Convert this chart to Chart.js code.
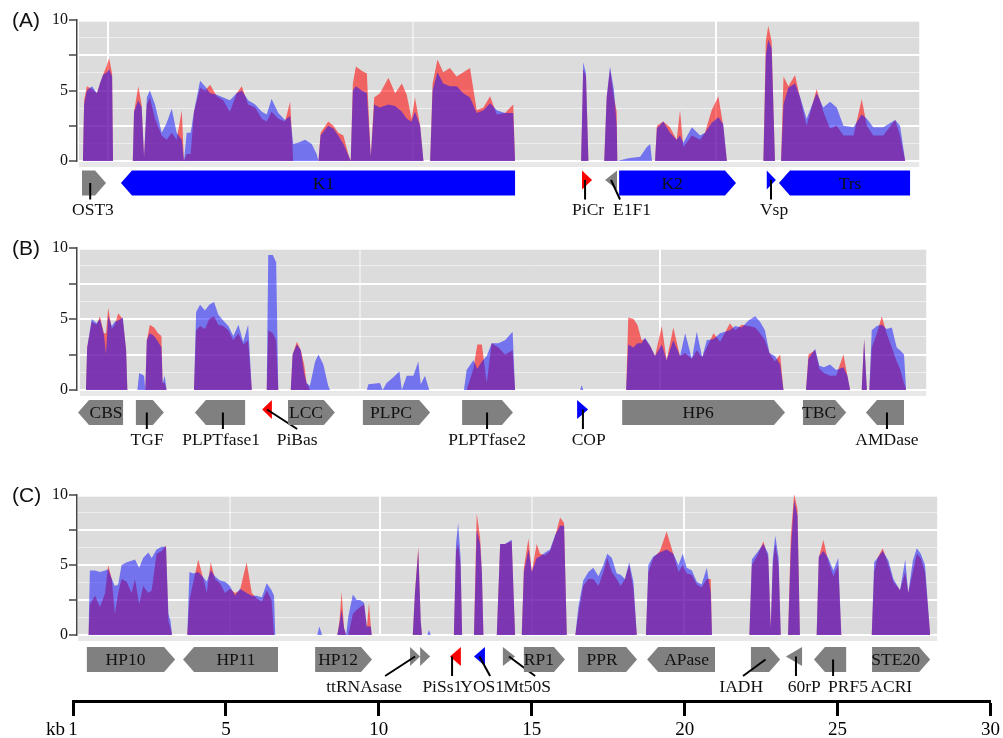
<!DOCTYPE html>
<html>
<head>
<meta charset="utf-8">
<script src="https://cdn.jsdelivr.net/npm/chart.js@4.4.1/dist/chart.umd.min.js"></script>
<style>
  html, body { margin: 0; padding: 0; background: #fff; }
  #wrap { position: relative; width: 1003px; height: 738px; overflow: hidden; }
  canvas { position: absolute; left: 0; }
</style>
</head>
<body>
<div id="wrap">
  <canvas id="panelA" width="1003" height="230" style="top:0px"></canvas>
  <canvas id="panelB" width="1003" height="230" style="top:230px"></canvas>
  <canvas id="panelC" width="1003" height="230" style="top:470px"></canvas>
  <canvas id="kbAxis" width="1003" height="50" style="top:688px"></canvas>
</div>
<script>
// ---------- panel A: read coverage along the locus (kb), two libraries ----------
const aKb = [
  0.26, 0.30, 0.39, 0.56, 0.72, 0.82, 0.92, 1.05, 1.12, 1.22, 1.25,
  1.90, 1.94, 2.08, 2.19, 2.27, 2.36, 2.46, 2.63, 2.85, 3.01,
  3.18, 3.34, 3.51, 3.58, 3.67, 3.80, 3.91, 4.11, 4.27, 4.44,
  4.66, 4.87, 5.09, 5.31, 5.48, 5.69, 5.92, 6.14, 6.30, 6.46,
  6.68, 6.90, 7.07, 7.17, 7.33, 7.56, 7.78, 7.94, 8.00, 8.07,
  8.32, 8.49, 8.65, 8.82, 8.98, 9.06, 9.13, 9.23, 9.42, 9.59,
  9.72, 9.83, 10.02, 10.30, 10.52, 10.74, 10.90, 11.06, 11.17, 11.34,
  11.45, 11.67, 11.75, 11.91, 12.10, 12.32, 12.54, 12.76, 12.98, 13.20,
  13.42, 13.64, 13.86, 14.13, 14.40, 14.46,
  16.63, 16.70, 16.79, 16.87, 17.39, 17.47, 17.58, 17.71, 17.80, 17.82, 18.18,
  18.57, 18.79, 18.90, 18.96, 19.06, 19.12, 19.33, 19.55, 19.77, 19.88,
  19.99, 20.27, 20.54, 20.70, 20.92, 21.14, 21.30, 21.42, 22.62, 22.70,
  22.78, 22.89, 23.00, 23.20, 23.28, 23.44, 23.66, 23.82, 24.04, 24.37,
  24.59, 24.81, 25.03, 25.25, 25.58, 25.85, 26.02, 26.23, 26.56, 26.95,
  27.11, 27.28
];
const aRed = [
  0, 4.3, 5.3, 5.1, 4.8, 5.5, 6.1, 6.8, 7.3, 6.2, 0,
  0, 3.5, 5.3, 4.0, 0.3, 4.0, 4.5, 3.0, 1.8, 1.5,
  2.0, 1.5, 3.6, 0, 0.5, 0.5, 3.5, 5.2, 5.0, 5.4,
  4.6, 4.3, 3.5, 4.8, 5.3, 4.0, 3.8, 3.0, 2.8, 3.5,
  3.0, 2.8, 4.2, 0, 0, 0, 0, 0, 0, 2.0,
  2.8, 2.5, 2.0, 1.8, 0.5, 0, 5.5, 6.7, 6.4, 6.2,
  0.3, 4.5, 4.8, 5.9, 4.8, 5.5, 4.7, 3.0, 4.5, 2.5,
  0, 0, 5.5, 7.2, 6.3, 6.6, 6.0, 6.3, 6.6, 3.6,
  3.8, 4.6, 3.3, 3.4, 4.0, 0,
  0, 6.5, 6.0, 0, 0, 4.5, 6.5, 4.5, 3.5, 0, 0,
  0, 0, 0, 0, 0, 2.5, 2.8, 2.4, 1.5, 3.6,
  1.0, 1.8, 1.5, 2.0, 3.6, 4.6, 2.5, 0, 0, 8.5,
  9.6, 8.5, 0, 0, 6.0, 5.3, 6.1, 4.5, 2.5, 5.1,
  3.5, 2.3, 2.5, 1.8, 1.8, 4.4, 2.5, 1.8, 1.8, 2.9,
  1.8, 0
];
const aBlue = [
  0, 4.0, 5.0, 5.3, 4.8, 5.5, 6.1, 6.3, 6.5, 6.0, 0,
  0, 3.5, 4.3, 3.8, 0.3, 4.5, 5.0, 4.0, 2.0, 2.7,
  3.7, 2.0, 1.5, 0, 2.0, 2.0, 3.5, 5.7, 5.3, 4.8,
  4.7, 4.5, 4.3, 4.8, 5.0, 4.3, 4.0, 3.5, 3.3, 4.4,
  3.4, 2.9, 3.2, 1.2, 1.3, 1.5, 1.2, 0.5, 0, 1.8,
  2.5, 2.3, 1.8, 1.2, 0.4, 0, 5.0, 5.3, 5.0, 4.8,
  0.3, 4.0, 3.8, 4.0, 3.9, 3.5, 3.0, 2.8, 3.5, 2.5,
  0, 0, 5.0, 6.3, 5.5, 5.3, 5.3, 4.8, 4.5, 3.4,
  3.6, 4.1, 3.6, 3.4, 3.4, 0,
  0, 7.0, 6.2, 0, 0, 4.5, 6.7, 5.0, 2.5, 0, 0.2,
  0.3, 1.0, 1.2, 0, 0, 2.3, 2.8, 2.0, 1.5, 1.8,
  1.3, 2.4, 1.8, 2.0, 2.7, 3.1, 2.6, 0, 0, 7.5,
  8.6, 8.0, 0, 0, 4.0, 5.2, 5.5, 4.6, 3.0, 4.8,
  3.8, 4.2, 3.8, 2.5, 2.4, 3.3, 3.0, 2.4, 2.4, 2.9,
  2.5, 0
];
const aGeneName = ['OST3', 'K1', 'PiCr', 'E1F1', 'K2', 'Vsp', 'Trs'];
const aGeneStart = [0.23, 1.51, 16.66, 17.42, 17.88, 22.73, 23.13];
const aGeneEnd = [1.02, 14.46, 16.99, 17.81, 21.72, 23.03, 27.44];
const aGeneStrand = [1, -1, 1, -1, 1, 1, -1];
const aGeneType = ['grey', 'blue', 'red', 'grey', 'blue', 'blue', 'blue'];

// ---------- panel B ----------
const bKb = [
  0.36, 0.40, 0.55, 0.71, 0.82, 0.95, 1.02, 1.09, 1.21, 1.31, 1.42, 1.57, 1.68, 1.72,
  2.05, 2.11, 2.27, 2.31, 2.36, 2.46, 2.60, 2.73, 2.84, 2.88, 2.95, 3.01,
  3.91, 3.98, 4.11, 4.27, 4.41, 4.57, 4.71, 4.87, 5.04, 5.20, 5.37, 5.53, 5.69, 5.81,
  6.30, 6.35, 6.50, 6.61, 6.68,
  7.09, 7.15, 7.29, 7.42, 7.53, 7.61, 7.72, 7.89, 8.00, 8.16, 8.32,
  8.38, 9.59, 9.64, 10.02, 10.11, 10.24, 10.46, 10.66, 10.74, 10.90, 11.12, 11.28, 11.36,
  11.50, 11.64, 12.78, 12.87, 13.09, 13.22, 13.37, 13.53, 13.69, 13.91, 14.13,
  14.38, 14.46, 16.60, 16.65, 16.70, 18.11,
  18.18, 18.35, 18.48, 18.62, 18.73, 18.90, 19.06, 19.28, 19.44, 19.66,
  19.88, 20.05, 20.27, 20.43, 20.61, 20.76, 20.98, 21.20, 21.52, 21.69,
  21.91, 22.13, 22.35, 22.51, 22.67, 22.82, 23.00, 23.17, 23.28, 24.02,
  24.10, 24.32, 24.46, 24.61, 24.81, 25.01, 25.25, 25.38, 25.47, 25.85,
  25.93, 26.02, 26.10, 26.18, 26.35, 26.51, 26.67, 26.84, 27.00, 27.11, 27.24, 27.31
];
const bRed = [
  0, 3.0, 4.8, 4.6, 5.2, 4.0, 4.0, 5.8, 4.3, 4.6, 5.4, 5.0, 2.8, 0,
  0, 0, 0, 0, 3.5, 4.6, 4.4, 4.0, 3.8, 0.5, 0.5, 0,
  0, 4.2, 4.5, 4.3, 5.0, 5.2, 4.6, 4.5, 4.2, 3.5, 4.0, 3.2, 3.5, 0,
  0, 4.2, 4.0, 3.5, 0,
  0, 2.5, 3.4, 2.8, 1.8, 0.5, 0, 0, 0, 0, 0,
  0, 0, 0, 0, 0, 0, 0, 0, 0, 0, 0, 0, 0,
  0, 0, 0, 0, 1.5, 3.2, 3.2, 0.5, 3.3, 3.0, 2.5,
  2.8, 0, 0, 0, 0, 0,
  5.1, 5.0, 4.6, 3.5, 3.6, 3.1, 2.4, 4.5, 2.1, 4.4,
  2.4, 2.6, 2.2, 2.8, 2.3, 3.0, 4.0, 3.4, 4.7, 4.2,
  4.6, 4.5, 4.4, 4.0, 3.5, 2.6, 2.0, 2.5, 0, 0,
  2.5, 2.8, 1.5, 1.2, 1.0, 1.0, 2.5, 1.0, 0, 0,
  3.6, 0, 0, 3.0, 4.0, 5.2, 4.0, 3.0, 2.0, 1.5, 0.5, 0
];
const bBlue = [
  0, 3.0, 5.0, 4.7, 5.0, 3.9, 2.5, 5.2, 4.5, 4.8, 4.9, 5.1, 2.8, 0,
  0, 1.2, 1.0, 0, 3.5, 4.0, 3.8, 3.4, 3.0, 0.5, 1.0, 0,
  0, 5.5, 6.0, 5.6, 6.0, 6.2, 5.3, 4.9, 4.5, 3.8, 4.6, 3.4, 4.6, 0,
  0, 9.5, 9.5, 9.0, 0,
  0, 2.5, 3.2, 2.8, 1.2, 0.5, 0.3, 2.0, 2.5, 1.8, 0.3,
  0, 0, 0.4, 0.5, 0, 0.5, 0.9, 1.3, 0, 1.0, 1.0, 2.0, 0.4,
  1.0, 0, 0, 1.4, 2.1, 1.5, 2.0, 2.4, 3.3, 3.3, 3.5,
  4.1, 0, 0, 0.35, 0, 0,
  3.2, 3.0, 3.3, 3.3, 3.7, 3.1, 2.4, 3.2, 2.1, 3.5,
  2.4, 4.0, 2.2, 4.1, 2.3, 3.5, 3.6, 4.0, 4.2, 4.5,
  4.4, 4.9, 5.2, 4.8, 4.2, 2.6, 2.4, 1.8, 0, 0,
  2.2, 2.9, 1.7, 1.6, 1.8, 1.4, 1.6, 1.0, 0, 0,
  3.6, 0, 0, 4.2, 4.5, 4.6, 4.3, 4.4, 3.0, 2.8, 2.5, 0
];
const bGeneName = ['CBS', 'TGF', 'PLPTfase1', 'PiBas', 'LCC', 'PLPC', 'PLPTfase2', 'COP', 'HP6', 'TBC', 'AMDase'];
const bGeneStart = [0.10, 2.00, 3.94, 6.15, 7.00, 9.46, 12.72, 16.50, 17.98, 23.92, 25.99];
const bGeneEnd = [1.58, 2.92, 5.59, 6.47, 8.54, 11.67, 14.39, 16.86, 23.33, 25.34, 27.24];
const bGeneStrand = [-1, 1, -1, -1, 1, 1, 1, 1, 1, 1, -1];
const bGeneType = ['grey', 'grey', 'grey', 'red', 'grey', 'grey', 'grey', 'blue', 'grey', 'grey', 'grey'];

// ---------- panel C ----------
const cKb = [
  0.44, 0.49, 0.66, 0.82, 0.99, 1.09, 1.21, 1.31, 1.42, 1.53, 1.70, 1.86,
  1.97, 2.11, 2.24, 2.41, 2.52, 2.68, 2.85, 2.99, 3.07, 3.14,
  3.19, 3.69, 3.76, 3.89, 4.05, 4.22, 4.33, 4.46, 4.60, 4.76, 4.93, 5.09,
  5.26, 5.42, 5.64, 5.81, 5.97, 6.14, 6.30, 6.46, 6.54, 6.58,
  7.96, 8.03, 8.12, 8.62, 8.69, 8.76, 8.84, 8.91, 8.98, 9.13, 9.26, 9.37,
  9.50, 9.59, 9.66, 9.72, 9.75, 11.10, 11.17, 11.28, 11.36, 11.40, 11.58, 11.63,
  11.69, 12.45, 12.52, 12.59, 12.67, 12.72, 13.11, 13.20, 13.31, 13.37, 13.42,
  13.86, 13.97, 14.13, 14.35, 14.46, 14.68, 14.75, 14.90, 15.01, 15.17, 15.28, 15.45,
  15.61, 15.77, 15.94, 16.07, 16.16, 16.44, 16.54, 16.70, 16.87, 17.03,
  17.20, 17.36, 17.49, 17.64, 17.80, 17.93, 18.07, 18.21, 18.35, 18.46,
  18.76, 18.84, 19.00, 19.22, 19.44, 19.66, 19.83, 19.97, 20.10, 20.27,
  20.43, 20.59, 20.76, 20.89, 20.93, 22.16, 22.24, 22.45, 22.62, 22.78,
  22.86, 22.93, 23.01, 23.12, 23.19, 23.43, 23.52, 23.63, 23.74, 23.82,
  24.37, 24.44, 24.59, 24.75, 24.92, 25.08, 25.18, 26.18, 26.26, 26.37,
  26.54, 26.73, 26.89, 27.11, 27.28, 27.38, 27.53, 27.66, 27.79, 27.93,
  28.10
];
const cRed = [
  0, 2.2, 2.8, 2.0, 3.0, 5.0, 4.0, 1.5, 3.0, 4.0, 3.8, 3.0,
  4.0, 2.2, 3.5, 3.0, 3.2, 5.8, 6.0, 6.4, 1.0, 0.5,
  0, 0, 2.5, 3.8, 5.4, 4.0, 3.0, 5.2, 4.0, 3.7, 3.0, 3.3,
  3.0, 3.2, 5.2, 3.0, 2.6, 2.4, 3.2, 2.5, 0, 0,
  0, 0, 0, 0, 1.0, 3.1, 0.5, 0, 0, 1.5, 1.8, 2.0,
  2.2, 0.5, 2.3, 0.6, 0, 0, 3.0, 6.3, 1.0, 0, 0, 0,
  0, 0, 6.0, 6.5, 5.0, 0, 0, 8.7, 7.0, 4.5, 0,
  0, 6.5, 6.5, 6.7, 0, 0, 4.8, 6.9, 4.5, 6.5, 5.8, 5.7,
  6.0, 7.0, 8.4, 8.0, 0, 0, 1.5, 3.5, 4.0, 4.0,
  3.5, 4.5, 5.5, 4.5, 4.0, 3.5, 4.0, 5.0, 3.3, 0,
  0, 4.5, 5.5, 6.0, 7.4, 5.8, 4.5, 5.0, 4.4, 4.3,
  3.6, 3.4, 4.0, 4.0, 0, 0, 5.0, 5.8, 6.7, 5.5,
  0.5, 5.0, 6.5, 5.0, 0, 0, 7.0, 10.1, 9.0, 0,
  0, 5.5, 6.8, 5.3, 4.2, 5.0, 0, 0, 4.5, 5.5,
  6.2, 5.0, 3.8, 3.2, 4.5, 3.0, 4.5, 5.8, 5.5, 4.5,
  0
];
const cBlue = [
  0, 4.6, 4.6, 4.5, 4.6, 4.7, 4.0, 3.5, 3.6, 5.0, 5.2, 5.3,
  5.4, 4.8, 5.5, 5.9, 5.5, 6.1, 6.3, 6.3, 1.5, 1.0,
  0, 0, 4.5, 4.4, 4.5, 4.1, 3.8, 4.6, 4.2, 3.9, 3.8, 3.5,
  2.8, 3.3, 3.0, 2.8, 2.8, 2.7, 3.7, 3.2, 2.8, 0,
  0, 0.6, 0, 0, 0.8, 1.8, 0.5, 0, 1.3, 2.9, 2.5, 2.5,
  2.3, 0.6, 0.6, 0.6, 0, 0, 3.0, 6.0, 1.0, 0, 0, 0.35,
  0, 0, 6.5, 8.0, 5.5, 0, 0, 7.5, 6.5, 4.5, 0,
  0, 6.5, 6.5, 6.8, 0, 0, 4.5, 6.1, 4.5, 5.5, 5.6, 5.9,
  6.1, 7.1, 7.8, 7.8, 0, 0, 2.0, 3.9, 4.5, 4.8,
  4.2, 5.0, 5.8, 5.5, 4.4, 4.3, 4.0, 5.2, 3.8, 0,
  0, 5.0, 5.6, 5.9, 6.1, 5.8, 5.0, 5.8, 4.8, 4.6,
  3.8, 3.6, 4.8, 3.0, 0, 0, 5.4, 6.0, 6.5, 5.8,
  0.5, 5.5, 7.1, 5.5, 0, 0, 6.0, 9.6, 8.5, 0,
  0, 5.6, 6.0, 5.5, 4.6, 5.5, 0, 0, 5.2, 5.5,
  6.0, 5.3, 4.0, 3.2, 5.4, 3.0, 5.3, 6.2, 5.8, 5.0,
  0
];
const cGeneName = ['HP10', 'HP11', 'HP12', 'ttRNAsase', '', 'PiSs1', 'YOS1', 'Mt50S', 'RP1', 'PPR', 'APase', 'IADH', '60rP', 'PRF5', 'STE20'];
const cGeneStart = [0.39, 3.55, 7.89, 11.01, 11.34, 12.32, 13.11, 14.06, 14.75, 16.53, 18.80, 22.21, 23.36, 24.28, 26.19];
const cGeneEnd = [3.29, 6.67, 9.76, 11.34, 11.67, 12.68, 13.47, 14.46, 16.10, 18.47, 21.03, 23.17, 23.89, 25.34, 28.10];
const cGeneStrand = [1, -1, 1, 1, 1, -1, -1, 1, 1, 1, -1, 1, -1, -1, 1];
const cGeneType = ['grey', 'grey', 'grey', 'grey', 'grey', 'red', 'blue', 'grey', 'grey', 'grey', 'grey', 'grey', 'grey', 'grey', 'grey'];
const cNoteName = ['ACRI'];
const cNoteKb = [26.82];

// ---------- shared kb ruler ----------
const kbTicks = [0, 5, 10, 15, 20, 25, 30];
const kbTickLabels = ['1', '5', '10', '15', '20', '25', '30'];

// ---------- layout (label placement, grid, panel extents) ----------
const SERIF = '"Liberation Serif", "Times New Roman", serif';
const GENE_COLORS = { grey: '#808080', blue: '#0000ff', red: '#ff0000' };

const layoutA = {
  tag: 'A', padTop: 20, axisH: 69, geneGap: 9.5, span: [0.13, 27.74],
  vgrid: [1.08, 11.11, 21.06], vgridAlpha: [1, 0.45, 1],
  labelAt: [0.59, null, 16.86, 18.30, null, 22.97, null],
  leadTo: [0.50, null, 16.76, 17.91, null, 22.87, null],
  notes: [], notesAt: []
};
const layoutB = {
  tag: 'B', padTop: 18, axisH: 70, geneGap: 10, span: [0.16, 27.97],
  vgrid: [9.37, 19.22], vgridAlpha: [0.45, 1],
  labelAt: [null, 2.37, 4.80, 7.30, null, null, 13.54, 16.88, null, null, 26.68],
  leadTo: [null, 2.36, 4.86, 7.30, null, null, 13.54, 16.69, null, null, 26.68],
  notes: [], notesAt: []
};
const layoutC = {
  tag: 'C', padTop: 25, axisH: 65, geneGap: 12, span: [0.10, 28.33],
  vgrid: [5.09, 10.02, 15.02, 20.01], vgridAlpha: [0.45, 1, 0.45, 0.9],
  labelAt: [null, null, null, 9.50, null, 12.07, 13.38, 14.86, null, null, null, 21.89, 23.96, 25.40, null],
  leadTo: [null, null, null, 10.19, null, 12.39, 13.64, 15.12, null, null, null, 21.95, 23.69, 24.91, null],
  notes: cNoteName, notesAt: cNoteKb
};

function trackPlugin(genes, lay) {
  return {
    id: 'track' + lay.tag,
    beforeDraw(chart) {
      const { ctx } = chart;
      const sx = chart.scales.x;
      const sy = chart.scales.y;
      const left = sx.getPixelForValue(lay.span[0]);
      const right = sx.getPixelForValue(lay.span[1]);
      const top = sy.getPixelForValue(9.88);
      const base = sy.getPixelForValue(0);
      ctx.save();
      ctx.fillStyle = '#dcdcdc';
      ctx.fillRect(left, top, right - left, base - top);
      ctx.fillStyle = '#e8e8e8';
      ctx.fillRect(left, base, right - left, 6);
      ctx.restore();
    },
    afterDraw(chart) {
      const { ctx } = chart;
      const sx = chart.scales.x;
      const sy = chart.scales.y;
      const top = sy.getPixelForValue(0) + lay.geneGap;
      const h = 25;
      const hs = 19;
      const labelY = top + 40;
      ctx.save();

      ctx.fillStyle = '#111';
      ctx.textBaseline = 'middle';
      ctx.textAlign = 'left';
      ctx.font = '21px "Liberation Sans", Arial, sans-serif';
      ctx.fillText('(' + lay.tag + ')', 12, sy.getPixelForValue(10) + 1);

      ctx.font = '17.5px ' + SERIF;
      ctx.textAlign = 'center';
      genes.name.forEach((name, i) => {
        const x0 = sx.getPixelForValue(genes.start[i]);
        const x1 = sx.getPixelForValue(genes.end[i]);
        const dir = genes.strand[i];
        const w = x1 - x0;
        const small = w < 18;
        const head = small ? w : Math.min(11, w / 2);
        const gh = small ? hs : h;

        ctx.fillStyle = GENE_COLORS[genes.type[i]];
        ctx.beginPath();
        if (dir > 0) {
          ctx.moveTo(x0, top);
          ctx.lineTo(x1 - head, top);
          ctx.lineTo(x1, top + gh / 2);
          ctx.lineTo(x1 - head, top + gh);
          ctx.lineTo(x0, top + gh);
        } else {
          ctx.moveTo(x1, top);
          ctx.lineTo(x0 + head, top);
          ctx.lineTo(x0, top + gh / 2);
          ctx.lineTo(x0 + head, top + gh);
          ctx.lineTo(x1, top + gh);
        }
        ctx.closePath();
        ctx.fill();

        ctx.fillStyle = '#111';
        const at = lay.labelAt[i];
        if (at == null) {
          if (name) {
            const cx = dir > 0 ? (x0 + x1 - head) / 2 : (x0 + head + x1) / 2;
            ctx.fillText(name, cx, top + gh / 2 + 1);
          }
          return;
        }
        ctx.fillText(name, sx.getPixelForValue(at), labelY);
        const lead = lay.leadTo[i];
        const ex = sx.getPixelForValue(lead);
        const inside = lead >= genes.start[i] && lead <= genes.end[i];
        ctx.strokeStyle = '#000';
        ctx.lineWidth = 2;
        ctx.beginPath();
        ctx.moveTo(inside ? ex : (x0 + x1) / 2, top + gh / 2);
        ctx.lineTo(ex, labelY - 11);
        ctx.stroke();
      });

      lay.notes.forEach((t, i) => {
        ctx.fillText(t, sx.getPixelForValue(lay.notesAt[i]), labelY);
      });
      ctx.restore();
    }
  };
}

function makePanel(id, kb, red, blue, genes, lay) {
  const ptsRed = kb.map((v, i) => ({ x: v, y: red[i] }));
  const ptsBlue = kb.map((v, i) => ({ x: v, y: blue[i] }));
  const major = (c) => c.tick && c.tick.value % 2.5 === 0;

  return new Chart(document.getElementById(id), {
    type: 'line',
    data: {
      datasets: [
        {
          label: 'library 2',
          data: ptsBlue,
          fill: 'origin',
          backgroundColor: 'rgba(10, 10, 255, 0.5)',
          borderColor: 'rgba(0,0,0,0)',
          borderWidth: 0,
          pointRadius: 0,
          tension: 0,
          clip: 10,
        },
        {
          label: 'library 1',
          data: ptsRed,
          fill: 'origin',
          backgroundColor: 'rgba(255, 0, 0, 0.55)',
          borderColor: 'rgba(0,0,0,0)',
          borderWidth: 0,
          pointRadius: 0,
          tension: 0,
          clip: 10,
        },
      ],
    },
    options: {
      responsive: false,
      animation: false,
      devicePixelRatio: 1,
      layout: { padding: { top: lay.padTop, right: 15, left: 0, bottom: 0 } },
      plugins: { legend: { display: false }, tooltip: { enabled: false } },
      scales: {
        x: {
          type: 'linear',
          min: 0.066,
          max: 30,
          afterBuildTicks: (s) => { s.ticks = lay.vgrid.map((v) => ({ value: v })); },
          afterFit: (s) => { s.height = lay.axisH; },
          ticks: { display: false },
          grid: {
            color: (c) => 'rgba(255,255,255,' + (lay.vgridAlpha[c.index] ?? 1) + ')',
            lineWidth: 2,
            drawTicks: false,
          },
          border: { display: false },
        },
        y: {
          min: 0,
          max: 10,
          afterFit: (s) => { s.width = 77; },
          ticks: {
            stepSize: 1.25,
            autoSkip: false,
            padding: 1,
            color: '#111',
            font: { family: SERIF, size: 16 },
            callback: (v) => (v % 5 === 0 ? String(v) : ''),
          },
          grid: {
            color: (c) => (major(c) ? '#ffffff' : 'rgba(255,255,255,0.5)'),
            lineWidth: (c) => (major(c) ? 2 : 1),
            tickColor: (c) => (major(c) ? '#444' : 'rgba(0,0,0,0)'),
            tickLength: 8,
            tickWidth: 1.5,
          },
          border: { color: '#444', width: 1.5 },
        },
      },
    },
    plugins: [trackPlugin(genes, lay)],
  });
}

makePanel('panelA', aKb, aRed, aBlue,
  { name: aGeneName, start: aGeneStart, end: aGeneEnd, strand: aGeneStrand, type: aGeneType }, layoutA);
makePanel('panelB', bKb, bRed, bBlue,
  { name: bGeneName, start: bGeneStart, end: bGeneEnd, strand: bGeneStrand, type: bGeneType }, layoutB);
makePanel('panelC', cKb, cRed, cBlue,
  { name: cGeneName, start: cGeneStart, end: cGeneEnd, strand: cGeneStrand, type: cGeneType }, layoutC);

// bottom ruler in kb
new Chart(document.getElementById('kbAxis'), {
  type: 'line',
  data: { datasets: [] },
  options: {
    responsive: false,
    animation: false,
    devicePixelRatio: 1,
    layout: { padding: { left: 73, right: 11, top: 0, bottom: 0 } },
    plugins: { legend: { display: false }, tooltip: { enabled: false } },
    scales: {
      x: {
        type: 'linear',
        min: 0,
        max: 30,
        afterBuildTicks: (s) => { s.ticks = kbTicks.map((v) => ({ value: v })); },
        afterFit: (s) => { s.height = 37; },
        ticks: {
          autoSkip: false,
          maxRotation: 0,
          padding: 3,
          color: '#000',
          font: { family: SERIF, size: 19 },
          callback: (v, i) => kbTickLabels[i],
        },
        grid: { drawOnChartArea: false, tickLength: 15, tickColor: '#000', tickWidth: 3 },
        border: { color: '#000', width: 3 },
      },
      y: { display: false },
    },
  },
  plugins: [{
    id: 'kbUnit',
    afterDraw(chart) {
      const { ctx } = chart;
      ctx.save();
      ctx.fillStyle = '#000';
      ctx.font = '19px ' + SERIF;
      ctx.textAlign = 'right';
      ctx.textBaseline = 'middle';
      ctx.fillText('kb', 65, 42);
      ctx.restore();
    },
  }],
});
</script>
</body>
</html>
